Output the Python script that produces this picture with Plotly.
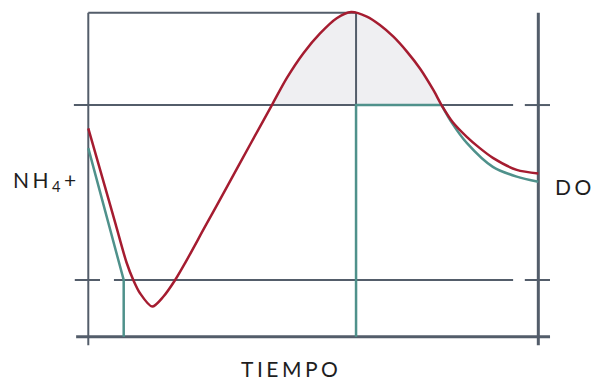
import plotly.graph_objects as go

# ---- data (time 0..100, level 0..100) ----
t_nh4 = [0, 3.7, 6.1, 8.5, 10.0, 11.5, 14.2, 16.7, 19.3, 21.5, 26, 31, 36, 40.8, 44.1, 47.8, 51.5,
         55.2, 58.4, 61.9, 64.8, 67.8, 70.8, 73.7, 76.7, 78.5, 81, 84.1, 87, 89.9, 95.2, 100]
nh4 = [64.3, 46.3, 34.6, 22.9, 17.5, 13.4, 9.3, 12.4, 17.5, 22.7, 34.1, 46.7, 59.4, 71.5, 79.8, 87.5, 93.6,
       98.3, 100.2, 98.8, 96.2, 92.6, 88.0, 82.8, 76.1, 71.5, 66.2, 61.7, 58.2, 55.2, 51.5, 50.4]

t_do_drop = [0, 7.87, 7.87]
do_drop = [58.2, 17.5, 0]
t_do_hold = [59.5, 59.5, 78.5]
do_hold = [0, 71.5, 71.5]
t_do_decay = [78.5, 80.8, 84.1, 89.9, 95.2, 100]
do_decay = [71.5, 66.0, 59.8, 52.4, 49.4, 47.8]

low_level = 17.5
high_level = 71.5
peak_level = 100
peak_time = 59.5

RED = "#a51c30"
TEAL = "#4f918b"
GREY = "#535d6a"
FILL = "#efeff2"

fig = go.Figure()

# shaded area above the high threshold
i0 = nh4.index(high_level)
i1 = len(nh4) - 1 - nh4[::-1].index(high_level)
fig.add_trace(go.Scatter(x=t_nh4[i0:i1 + 1], y=nh4[i0:i1 + 1], mode="lines",
                         line=dict(width=0, shape="spline", smoothing=0.8, color=FILL),
                         fill="toself", fillcolor=FILL, hoverinfo="skip"))

def seg(x0, x1, y0, y1, w):
    fig.add_trace(go.Scatter(x=[x0, x1], y=[y0, y1], mode="lines",
                             line=dict(color=GREY, width=w), hoverinfo="skip"))

# frame / reference lines
seg(0, 0, peak_level, -2.6, 2)                   # left axis
seg(100, 100, peak_level, -2.6, 3)               # right axis
seg(-2.7, 102.6, 0, 0, 3)                        # bottom axis
seg(0, peak_time, peak_level, peak_level, 2)     # top line
seg(peak_time, peak_time, peak_level, high_level, 2)
seg(-3.2, 94.4, high_level, high_level, 2)
seg(97.0, 102.6, high_level, high_level, 2)
seg(-3.0, 2.6, low_level, low_level, 2)
seg(5.7, 94.4, low_level, low_level, 2)
seg(97.0, 102.6, low_level, low_level, 2)

fig.add_trace(go.Scatter(x=t_do_drop, y=do_drop, mode="lines",
                         line=dict(color=TEAL, width=2.5), hoverinfo="skip"))
fig.add_trace(go.Scatter(x=t_do_hold, y=do_hold, mode="lines",
                         line=dict(color=TEAL, width=2.5), hoverinfo="skip"))
fig.add_trace(go.Scatter(x=t_do_decay, y=do_decay, mode="lines",
                         line=dict(color=TEAL, width=2.5, shape="spline", smoothing=0.8), hoverinfo="skip"))
fig.add_trace(go.Scatter(x=t_nh4, y=nh4, mode="lines",
                         line=dict(color=RED, width=2.5, shape="spline", smoothing=0.8), hoverinfo="skip"))

# page body adds an 8px offset; figure is laid out in page pixels minus 8
W, H, OFF = 598, 372, 8
FONT = dict(family="Lato", size=21, color="#1e1e1e")
def lbl(text, x, y, anchor):
    fig.add_annotation(text='<span style="letter-spacing:3.5px">' + text + '</span>',
                       xref="paper", yref="paper", x=(x - OFF) / W, y=1 - (y - OFF) / H,
                       xanchor=anchor, yanchor="middle", showarrow=False, font=FONT)

lbl("NH<sub>4</sub>+", 11, 181, "left")
lbl("DO", 553, 186, "left")
lbl("TIEMPO", 291, 368.5, "center")

fig.update_layout(
    width=W, height=H, margin=dict(l=0, r=0, t=0, b=0),
    paper_bgcolor="white", plot_bgcolor="white", showlegend=False,
    xaxis=dict(range=[-17.84, 115.04], visible=False, fixedrange=True),
    yaxis=dict(range=[-13.36, 101.45], visible=False, fixedrange=True),
)
fig.write_html("out.html")
